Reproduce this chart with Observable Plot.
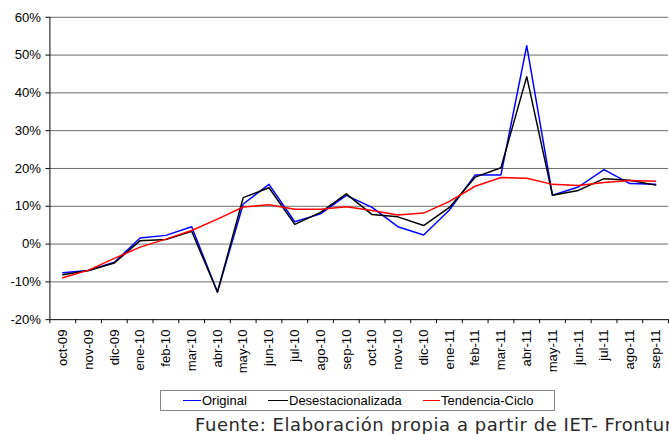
<!DOCTYPE html>
<html>
<head>
<meta charset="utf-8">
<script src="https://cdn.jsdelivr.net/npm/d3@7"></script>
<script src="https://cdn.jsdelivr.net/npm/@observablehq/plot@0.6"></script>
<style>
  html, body { margin: 0; padding: 0; background: #fff; overflow: hidden; }
  #wrap { position: relative; width: 669px; height: 434px; overflow: hidden; }
  #chart { position: absolute; left: 0; top: 0; }
  .legend { position: absolute; left: 160px; top: 390px; width: 393px; height: 19px; border: 1px solid #888; box-sizing: content-box; font-family: "Liberation Sans", Arial, sans-serif; font-size: 13px; color: #000; }
  .legend .sw { position: absolute; top: 9px; height: 0; border-top: 1.5px solid; }
  .legend .lb { position: absolute; top: 2px; white-space: nowrap; }
  .caption { position: absolute; left: 195px; top: 414px; font-family: "DejaVu Sans", Verdana, sans-serif; font-size: 18px; line-height: 21px; color: #2a2a2a; white-space: pre; letter-spacing: 0.55px; }
</style>
</head>
<body>
<div id="wrap">
  <div id="chart"></div>
  <div class="legend" id="legend"></div>
  <div class="caption" id="caption"></div>
</div>
<script>
const months = ["oct-09","nov-09","dic-09","ene-10","feb-10","mar-10","abr-10","may-10","jun-10","jul-10","ago-10","sep-10","oct-10","nov-10","dic-10","ene-11","feb-11","mar-11","abr-11","may-11","jun-11","jul-11","ago-11","sep-11"];
const original = [-7.6, -7.0, -4.8, 1.6, 2.3, 4.6, -12.7, 10.6, 15.8, 5.9, 8.0, 12.9, 9.7, 4.6, 2.4, 9.0, 18.3, 18.3, 52.5, 12.9, 15.1, 19.7, 16.0, 15.8];
const desestacionalizada = [-8.1, -7.0, -5.0, 0.9, 1.2, 3.4, -12.7, 12.3, 14.9, 5.2, 8.4, 13.3, 7.8, 7.2, 4.9, 9.7, 17.7, 20.2, 44.3, 12.9, 14.2, 17.3, 16.9, 15.6];
const tendencia = [-8.9, -6.9, -3.8, -0.8, 1.3, 3.6, 6.6, 9.8, 10.4, 9.2, 9.2, 9.9, 8.9, 7.7, 8.2, 11.3, 15.3, 17.6, 17.4, 15.8, 15.5, 16.3, 16.8, 16.6];
const yTicks = [-20, -10, 0, 10, 20, 30, 40, 50, 60];
const seriesNames = ["Original", "Desestacionalizada", "Tendencia-Ciclo"];
const seriesColors = ["#0000ff", "#000000", "#ff0000"];
const captionText = "Fuente: Elaboración propia a partir de IET- Frontur";

const idx = months.map((_, i) => i);
const boundaries = d3.range(-0.5, months.length, 1);
const rows = (vals) => vals.map((v, i) => ({i, v}));

const font = "'Liberation Sans', Arial, sans-serif";

const chart = Plot.plot({
  width: 677,
  height: 380,
  marginLeft: 50,
  marginRight: 1,
  marginTop: 17,
  marginBottom: 57,
  style: {fontFamily: font, fontSize: "13.3px", color: "#000", background: "transparent"},
  x: {type: "linear", domain: [-0.5, months.length - 0.5], axis: null},
  y: {domain: [-20, 60], axis: null},
  marks: [
    Plot.ruleY(yTicks.filter(d => d > -20), {stroke: "#6a6a6a", strokeWidth: 1}),
    Plot.axisY(yTicks, {label: null, tickSize: 4, tickPadding: 5, tickFormat: d => d + "%", stroke: "#000", fontSize: "13.3px"}),
    Plot.ruleX([-0.5], {stroke: "#000", strokeWidth: 1}),
    Plot.ruleY([-20], {stroke: "#000", strokeWidth: 1}),
    Plot.axisX(boundaries, {label: null, tickSize: 4, tickFormat: () => "", stroke: "#000"}),
    Plot.axisX(idx, {label: null, tickSize: 0, tickPadding: 10, tickRotate: -90, tickFormat: i => months[i], fontSize: "13.3px"}),
    Plot.line(rows(original), {x: "i", y: "v", stroke: seriesColors[0], strokeWidth: 1.5}),
    Plot.line(rows(desestacionalizada), {x: "i", y: "v", stroke: seriesColors[1], strokeWidth: 1.5}),
    Plot.line(rows(tendencia), {x: "i", y: "v", stroke: seriesColors[2], strokeWidth: 1.5})
  ]
});
document.getElementById("chart").appendChild(chart);

// Legend
const legend = document.getElementById("legend");
const swX = [22, 107, 262];
const swW = [18, 20, 17];
seriesNames.forEach((name, k) => {
  const sw = document.createElement("div");
  sw.className = "sw";
  sw.style.left = swX[k] + "px";
  sw.style.width = swW[k] + "px";
  sw.style.borderTopColor = seriesColors[k];
  legend.appendChild(sw);
  const lb = document.createElement("div");
  lb.className = "lb";
  lb.style.left = (swX[k] + swW[k] + 1) + "px";
  lb.textContent = name;
  legend.appendChild(lb);
});
document.getElementById("caption").textContent = captionText;
</script>
</body>
</html>
